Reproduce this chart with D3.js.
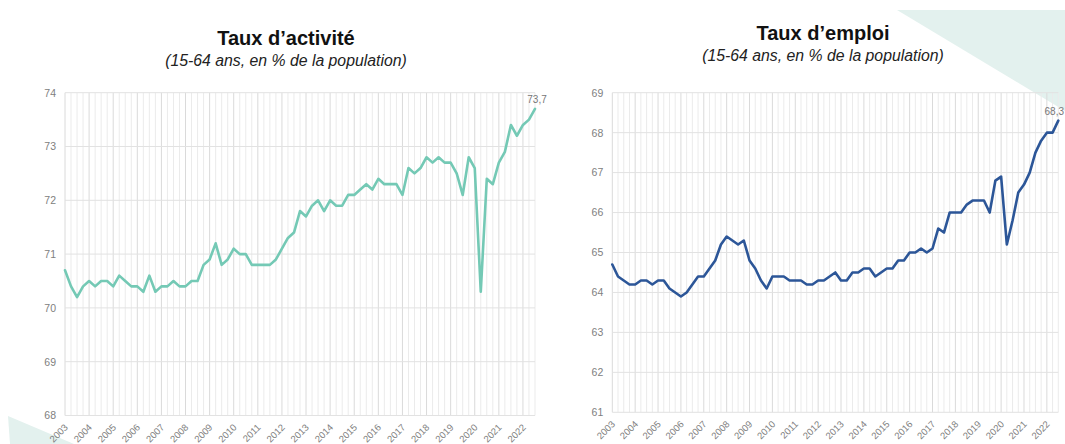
<!DOCTYPE html>
<html lang="fr">
<head>
<meta charset="utf-8">
<script src="https://cdn.jsdelivr.net/npm/d3@7"></script>
<style>
  html, body { margin: 0; padding: 0; background: #ffffff; }
  svg { display: block; }
  text { font-family: "Liberation Sans", Arial, sans-serif; }
</style>
</head>
<body>
<svg id="chart" width="1065" height="444"></svg>
<script>
// Years shown on the x axis (one label per year, first quarter)
const years = [2003, 2004, 2005, 2006, 2007, 2008, 2009, 2010, 2011, 2012,
               2013, 2014, 2015, 2016, 2017, 2018, 2019, 2020, 2021, 2022];

// Quarterly categories, 2003 T1 to 2022 T3
const quarters = [];
years.forEach(y => [1, 2, 3, 4].forEach(q => quarters.push(y + "T" + q)));
quarters.length = 79;

// Taux d'activité des 15-64 ans (%)
const tauxActivite = [
  70.7, 70.4, 70.2, 70.4, 70.5, 70.4, 70.5, 70.5, 70.4, 70.6,
  70.5, 70.4, 70.4, 70.3, 70.6, 70.3, 70.4, 70.4, 70.5, 70.4,
  70.4, 70.5, 70.5, 70.8, 70.9, 71.2, 70.8, 70.9, 71.1, 71.0,
  71.0, 70.8, 70.8, 70.8, 70.8, 70.9, 71.1, 71.3, 71.4, 71.8,
  71.7, 71.9, 72.0, 71.8, 72.0, 71.9, 71.9, 72.1, 72.1, 72.2,
  72.3, 72.2, 72.4, 72.3, 72.3, 72.3, 72.1, 72.6, 72.5, 72.6,
  72.8, 72.7, 72.8, 72.7, 72.7, 72.5, 72.1, 72.8, 72.6, 70.3,
  72.4, 72.3, 72.7, 72.9, 73.4, 73.2, 73.4, 73.5, 73.7
];

// Taux d'emploi des 15-64 ans (%)
const tauxEmploi = [
  64.7, 64.4, 64.3, 64.2, 64.2, 64.3, 64.3, 64.2, 64.3, 64.3,
  64.1, 64.0, 63.9, 64.0, 64.2, 64.4, 64.4, 64.6, 64.8, 65.2,
  65.4, 65.3, 65.2, 65.3, 64.8, 64.6, 64.3, 64.1, 64.4, 64.4,
  64.4, 64.3, 64.3, 64.3, 64.2, 64.2, 64.3, 64.3, 64.4, 64.5,
  64.3, 64.3, 64.5, 64.5, 64.6, 64.6, 64.4, 64.5, 64.6, 64.6,
  64.8, 64.8, 65.0, 65.0, 65.1, 65.0, 65.1, 65.6, 65.5, 66.0,
  66.0, 66.0, 66.2, 66.3, 66.3, 66.3, 66.0, 66.8, 66.9, 65.2,
  65.8, 66.5, 66.7, 67.0, 67.5, 67.8, 68.0, 68.0, 68.3
];

const yTicksActivite = [68, 69, 70, 71, 72, 73, 74];
const yTicksEmploi = [61, 62, 63, 64, 65, 66, 67, 68, 69];

const W = 1065;

const panels = [
  {
    title: "Taux d\u2019activité",
    subtitle: "(15-64 ans, en % de la population)",
    values: tauxActivite, ticks: yTicksActivite, color: "#74c9b5",
    left: 65, right: 535, top: 92.7, bottom: 415.5,
    titleX: 286, titleY: 44.5, subY: 66
  },
  {
    title: "Taux d\u2019emploi",
    subtitle: "(15-64 ans, en % de la population)",
    values: tauxEmploi, ticks: yTicksEmploi, color: "#2c5698",
    left: 612.3, right: 1058.3, top: 92.7, bottom: 412.3,
    titleX: 823, titleY: 39.5, subY: 61
  }
];

const svg = d3.select("#chart");
const fmt = v => d3.format(".1f")(v).replace(".", ",");

// Decorative pale wedges in the corners
svg.append("path")
  .attr("d", "M897,10 L1065,10 L1065,111 Z")
  .attr("fill", "#e3f1ee");
svg.append("path")
  .attr("d", "M8,416 L74,444 L10,444 Z")
  .attr("fill", "#e3f1ee");

panels.forEach(p => {
  const g = svg.append("g");

  const x = d3.scalePoint().domain(quarters).range([p.left, p.right]);
  const y = d3.scaleLinear()
    .domain([d3.min(p.ticks), d3.max(p.ticks)])
    .range([p.bottom, p.top]);

  // Vertical grid: one line per quarter, stronger on each year
  g.append("g").selectAll("line")
    .data(quarters)
    .join("line")
    .attr("x1", d => x(d)).attr("x2", d => x(d))
    .attr("y1", p.top).attr("y2", p.bottom)
    .attr("stroke", d => d.endsWith("T1") ? "#dadada" : "#ebebeb")
    .attr("stroke-width", 1);

  // Horizontal grid on whole points
  g.append("g").selectAll("line")
    .data(p.ticks)
    .join("line")
    .attr("x1", p.left).attr("x2", p.right)
    .attr("y1", d => y(d)).attr("y2", d => y(d))
    .attr("stroke", "#e2e2e2")
    .attr("stroke-width", 1);

  // Y axis labels
  const yAxis = d3.axisLeft(y).tickValues(p.ticks).tickSize(0).tickPadding(9)
    .tickFormat(d3.format("d"));
  g.append("g")
    .attr("transform", `translate(${p.left},0)`)
    .call(yAxis)
    .call(a => a.select(".domain").remove())
    .call(a => a.selectAll("text")
      .attr("fill", "#808080")
      .attr("font-size", 10.5));

  // X axis labels, rotated
  const xAxis = d3.axisBottom(x)
    .tickValues(quarters.filter(q => q.endsWith("T1")))
    .tickSize(0)
    .tickFormat(q => q.slice(0, 4));
  g.append("g")
    .attr("transform", `translate(0,${p.bottom})`)
    .call(xAxis)
    .call(a => a.select(".domain").remove())
    .call(a => a.selectAll("text")
      .attr("fill", "#808080")
      .attr("font-size", 9.5)
      .attr("text-anchor", "end")
      .attr("y", 0)
      .attr("dy", "0")
      .attr("transform", "translate(3,12.5) rotate(-45)"));

  // Series line
  const line = d3.line()
    .x((d, i) => x(quarters[i]))
    .y(d => y(d));
  g.append("path")
    .datum(p.values)
    .attr("d", line)
    .attr("fill", "none")
    .attr("stroke", p.color)
    .attr("stroke-width", 2.6)
    .attr("stroke-linejoin", "round")
    .attr("stroke-linecap", "round");

  // Last value label, kept inside the page
  const last = p.values[p.values.length - 1];
  const lbl = g.append("text")
    .attr("y", y(last) - 6)
    .attr("text-anchor", "middle")
    .attr("font-size", 10)
    .attr("fill", "#777777")
    .text(fmt(last));
  const half = lbl.node().getComputedTextLength() / 2;
  lbl.attr("x", Math.min(x(quarters[p.values.length - 1]) + 2, W - half - 1));

  // Titles
  g.append("text")
    .attr("x", p.titleX).attr("y", p.titleY)
    .attr("text-anchor", "middle")
    .attr("font-size", 20)
    .attr("font-weight", "bold")
    .attr("fill", "#111111")
    .text(p.title);
  g.append("text")
    .attr("x", p.titleX).attr("y", p.subY)
    .attr("text-anchor", "middle")
    .attr("font-size", 15.8)
    .attr("font-style", "italic")
    .attr("fill", "#222222")
    .text(p.subtitle);
});
</script>
</body>
</html>
